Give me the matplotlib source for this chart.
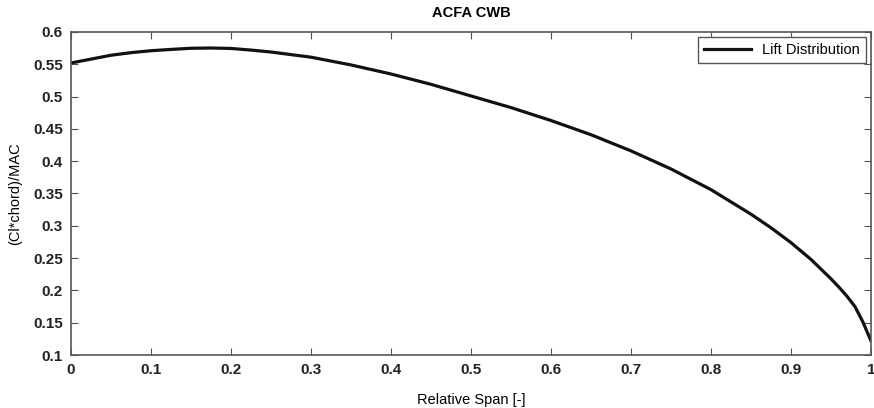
import matplotlib.pyplot as plt
import numpy as np

plt.rcParams['font.family'] = ['Liberation Sans', 'DejaVu Sans']

# lift distribution
span = [0.0, 0.025, 0.05, 0.075, 0.1, 0.125, 0.15, 0.175, 0.2, 0.225, 0.25,
        0.3, 0.35, 0.4, 0.45, 0.5, 0.55, 0.6, 0.65, 0.7, 0.75, 0.8, 0.85,
        0.875, 0.9, 0.925, 0.95, 0.96, 0.97, 0.98, 0.99, 1.0]
lift = [0.552, 0.558, 0.564, 0.568, 0.571, 0.573, 0.5748, 0.5752, 0.5745,
        0.572, 0.569, 0.561, 0.549, 0.535, 0.519, 0.501, 0.483, 0.463, 0.441,
        0.416, 0.388, 0.356, 0.318, 0.297, 0.274, 0.248, 0.218, 0.205, 0.191,
        0.175, 0.151, 0.122]

fig = plt.figure(figsize=(8.74, 4.08), dpi=100)
ax = fig.add_axes([0.0812, 0.1299, 0.9153, 0.7917])

ax.plot(span, lift, color='#111111', lw=2.3, label='Lift Distribution',
        solid_joinstyle='round')

ax.set_xlim(0, 1)
ax.set_ylim(0.1, 0.6)
ax.set_xticks(np.arange(0, 1.01, 0.1))
ax.set_xticklabels(['0', '0.1', '0.2', '0.3', '0.4', '0.5', '0.6', '0.7', '0.8', '0.9', '1'])
ax.set_yticks(np.arange(0.1, 0.601, 0.05))
ax.set_yticklabels(['0.1', '0.15', '0.2', '0.25', '0.3', '0.35', '0.4', '0.45', '0.5', '0.55', '0.6'])
ax.tick_params(direction='in', top=True, right=True, length=5, color='#555555',
               labelsize=11, pad=6)
for lab in ax.get_xticklabels() + ax.get_yticklabels():
    lab.set_fontweight('bold')
    lab.set_color('#222222')
for s in ax.spines.values():
    s.set_color('#555555')
    s.set_linewidth(1.2)

ax.set_title('ACFA CWB', fontsize=10.5, fontweight='bold', pad=11)
ax.set_xlabel('Relative Span [-]', fontsize=10.5, labelpad=11)
ax.set_ylabel('(Cl*chord)/MAC', fontsize=10.5, labelpad=8)

leg = ax.legend(loc='upper right', fontsize=10.5, fancybox=False, framealpha=1,
                edgecolor='#555555', handlelength=3.2, borderpad=0.4,
                borderaxespad=0.35)
leg.get_frame().set_linewidth(1.0)

fig.savefig('out.png', dpi=100)
